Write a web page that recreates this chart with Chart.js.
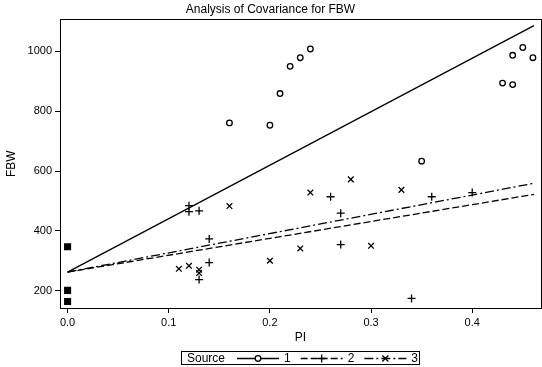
<!DOCTYPE html>
<html>
<head>
<meta charset="utf-8">
<script src="https://cdn.jsdelivr.net/npm/chart.js@4/dist/chart.umd.min.js"></script>
<style>
  html, body { margin: 0; padding: 0; background: #fff; }
</style>
</head>
<body>
<canvas id="chart" width="542" height="367"></canvas>
<script>
// ================== DATA ==================
const sourceNames = ['1', '2', '3'];

// Source 1 (circles)
const pi1  = [0.16, 0.20, 0.21, 0.22, 0.23, 0.24, 0.35, 0.43, 0.44, 0.44, 0.45, 0.46];
const fbw1 = [761, 753, 859, 950, 979, 1008, 633, 894, 889, 987, 1013, 979];

// Source 2 (plus)
const pi2  = [0.12, 0.12, 0.13, 0.13, 0.14, 0.14, 0.26, 0.27, 0.27, 0.34, 0.36, 0.40];
const fbw2 = [484, 464, 467, 237, 373, 294, 514, 459, 354, 174, 514, 528];

// Source 3 (x)
const pi3  = [0.11, 0.12, 0.13, 0.13, 0.16, 0.20, 0.23, 0.24, 0.28, 0.30, 0.33];
const fbw3 = [273, 283, 270, 259, 483, 300, 341, 528, 572, 350, 537];

// Control points at PI = 0 (filled squares)
const pi0  = [0, 0, 0];
const fbw0 = [347, 201, 164];

// Fitted lines (start / end)
const fitPi   = [0, 0.461];
const fitFbw1 = [262, 1086];
const fitFbw2 = [262, 522];
const fitFbw3 = [262, 559];

const xTicks = [0, 0.1, 0.2, 0.3, 0.4];
const yTicks = [200, 400, 600, 800, 1000];

// ================== HELPERS ==================
const FONT = 'Liberation Sans, Arial, sans-serif';
const toPoints = (xs, ys) => xs.map((x, i) => ({ x: x, y: ys[i] }));

const lineStyles = [[], [7, 3], [9, 3, 2, 3]];
const markerStyles = ['circle', 'cross', 'crossRot'];

function drawMarker(ctx, style, x, y) {
  ctx.beginPath();
  if (style === 'circle') {
    ctx.arc(x, y, 2.8, 0, Math.PI * 2);
  } else if (style === 'cross') {
    ctx.moveTo(x - 4, y); ctx.lineTo(x + 4, y);
    ctx.moveTo(x, y - 4); ctx.lineTo(x, y + 4);
  } else {
    ctx.moveTo(x - 3, y - 3); ctx.lineTo(x + 3, y + 3);
    ctx.moveTo(x - 3, y + 3); ctx.lineTo(x + 3, y - 3);
  }
  ctx.stroke();
}

// ================== PLUGIN: FRAME + LEGEND ==================
const framePlugin = {
  id: 'frameLegend',
  afterDraw(chart) {
    const ctx = chart.ctx;
    const a = chart.chartArea;
    ctx.save();
    ctx.strokeStyle = '#000';
    ctx.lineWidth = 1;
    ctx.strokeRect(Math.round(a.left) + 0.5, Math.round(a.top) + 0.5,
                   Math.round(a.right - a.left), Math.round(a.bottom - a.top));

    // legend box
    ctx.strokeRect(181.5, 351.5, 238, 13);
    ctx.fillStyle = '#000';
    ctx.font = '12px ' + FONT;
    ctx.textBaseline = 'middle';
    ctx.textAlign = 'left';
    ctx.fillText('Source', 187, 358.5);

    let x = 237;
    const y = 358.5;
    sourceNames.forEach((name, i) => {
      ctx.lineWidth = 1.3;
      ctx.setLineDash(lineStyles[i]);
      ctx.beginPath();
      ctx.moveTo(x, y); ctx.lineTo(x + 42, y);
      ctx.stroke();
      ctx.setLineDash([]);
      ctx.fillStyle = '#fff';
      if (markerStyles[i] === 'circle') {
        ctx.beginPath(); ctx.arc(x + 21, y, 2.8, 0, Math.PI * 2); ctx.fill();
      }
      drawMarker(ctx, markerStyles[i], x + 21, y);
      ctx.fillStyle = '#000';
      ctx.fillText(name, x + 47, y);
      x += 47 + ctx.measureText(name).width + 10;
    });
    ctx.restore();
  }
};

// ================== CHART ==================
const axisBase = {
  type: 'linear',
  ticks: { color: '#000', font: { size: 11, family: FONT }, padding: 3 },
  grid: { drawOnChartArea: false, drawTicks: true, tickLength: 5, color: '#000' },
  border: { color: '#000', width: 1 }
};

new Chart(document.getElementById('chart').getContext('2d'), {
  type: 'scatter',
  data: {
    datasets: [
      {
        type: 'line', label: 'fit1', data: toPoints(fitPi, fitFbw1),
        borderColor: '#000', borderWidth: 1.3, pointRadius: 0, fill: false
      },
      {
        type: 'line', label: 'fit2', data: toPoints(fitPi, fitFbw2),
        borderColor: '#000', borderWidth: 1.3, borderDash: lineStyles[1], pointRadius: 0, fill: false
      },
      {
        type: 'line', label: 'fit3', data: toPoints(fitPi, fitFbw3),
        borderColor: '#000', borderWidth: 1.3, borderDash: lineStyles[2], pointRadius: 0, fill: false
      },
      {
        label: '1', data: toPoints(pi1, fbw1),
        pointStyle: 'circle', pointRadius: 2.8, pointBorderWidth: 1.3,
        pointBorderColor: '#000', pointBackgroundColor: 'rgba(0,0,0,0)'
      },
      {
        label: '2', data: toPoints(pi2, fbw2),
        pointStyle: 'cross', pointRadius: 4, pointBorderWidth: 1.3,
        pointBorderColor: '#000', pointBackgroundColor: '#000'
      },
      {
        label: '3', data: toPoints(pi3, fbw3),
        pointStyle: 'crossRot', pointRadius: 4, pointBorderWidth: 1.3,
        pointBorderColor: '#000', pointBackgroundColor: '#000'
      },
      {
        label: '0', data: toPoints(pi0, fbw0),
        pointStyle: 'rect', pointRadius: 5, pointBorderWidth: 0,
        pointBorderColor: '#000', pointBackgroundColor: '#000'
      }
    ]
  },
  options: {
    responsive: false,
    animation: false,
    events: [],
    layout: { autoPadding: false, padding: { top: 0, right: 1, bottom: 20, left: 0 } },
    plugins: {
      legend: { display: false },
      tooltip: { enabled: false },
      title: {
        display: true,
        text: 'Analysis of Covariance for FBW',
        color: '#000',
        font: { size: 12, weight: 'normal', family: FONT },
        padding: { top: 2, bottom: 3 }
      }
    },
    scales: {
      x: Object.assign({}, axisBase, {
        min: -0.0075, max: 0.468,
        ticks: Object.assign({}, axisBase.ticks, { callback: v => v.toFixed(1) }),
        afterBuildTicks: s => { s.ticks = xTicks.map(v => ({ value: v })); },
        afterFit: s => { s.height = 39; },
        title: { display: true, text: 'PI', color: '#000', font: { size: 12, family: FONT }, padding: { top: 4, bottom: 2 } }
      }),
      y: Object.assign({}, axisBase, {
        min: 142, max: 1107,
        ticks: Object.assign({}, axisBase.ticks, { callback: v => String(v) }),
        afterBuildTicks: s => { s.ticks = yTicks.map(v => ({ value: v })); },
        afterFit: s => { s.width = 60; },
        title: { display: true, text: 'FBW', color: '#000', font: { size: 12, family: FONT }, padding: { top: 4, bottom: 4 } }
      })
    }
  },
  plugins: [framePlugin]
});
</script>
</body>
</html>
